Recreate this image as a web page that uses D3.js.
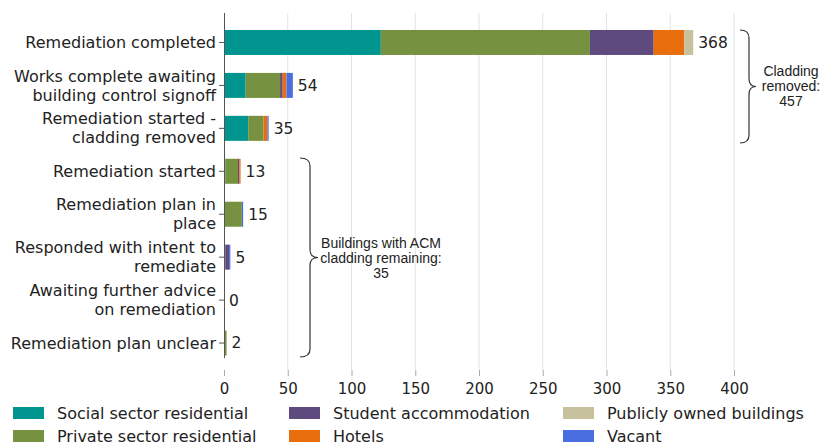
<!DOCTYPE html>
<html><head><meta charset="utf-8">
<script src="https://cdn.jsdelivr.net/npm/d3@7"></script>
<style>body{margin:0;background:#fff}svg{display:block}</style>
</head><body>
<svg id="c" width="823" height="443"></svg>
<script>
const categories = [
  ["Remediation completed"],
  ["Works complete awaiting","building control signoff"],
  ["Remediation started -","cladding removed"],
  ["Remediation started"],
  ["Remediation plan in","place"],
  ["Responded with intent to","remediate"],
  ["Awaiting further advice","on remediation"],
  ["Remediation plan unclear"]
];
const seriesNames = ["Social sector residential","Private sector residential","Student accommodation","Hotels","Publicly owned buildings","Vacant"];
const social   = [123, 17, 19, 1, 0, 0, 0, 0];
const privateS = [164, 27, 12, 10, 14, 1, 0, 2];
const student  = [50, 2, 0, 1, 0, 3, 0, 0];
const hotels   = [24, 3, 3, 1, 0, 0, 0, 0];
const publicB  = [7, 0, 0, 0, 0, 0, 0, 0];
const vacant   = [0, 5, 1, 0, 1, 1, 0, 0];
const totals   = [368, 54, 35, 13, 15, 5, 0, 2];
const xTicks   = [0, 50, 100, 150, 200, 250, 300, 350, 400];
const colors   = ["#00968f","#76913f","#5e4a7c","#e86d0c","#c7c19d","#4a6ee0"];

const svg = d3.select("#c");
const font = "DejaVu Sans";
const x = d3.scaleLinear().domain([0, 400]).range([224, 734]);
const y = d3.scaleBand().domain(d3.range(categories.length)).range([21, 364.5]).paddingInner(0.418).paddingOuter(0.209);

// gridlines
svg.append("g").selectAll("line").data(xTicks.filter(d => d > 0)).join("line")
  .attr("x1", d => x(d)).attr("x2", d => x(d)).attr("y1", 13).attr("y2", 370)
  .attr("stroke", "#e3e3e3").attr("stroke-width", 1);
// x axis
const xa = svg.append("g").attr("transform", "translate(0,370)")
  .call(d3.axisBottom(x).tickValues(xTicks).tickSize(6).tickPadding(7));
xa.select(".domain").remove();
xa.selectAll("line").attr("stroke", "#aaa");
xa.selectAll("text").attr("font-family", font).attr("font-size", 15).attr("fill", "#222");

const rows = categories.map((c, i) => {
  const vals = [social[i], privateS[i], student[i], hotels[i], publicB[i], vacant[i]];
  return {i, vals};
});
const stackData = rows.map(r => { const o = {i: r.i}; r.vals.forEach((v, k) => o[k] = v); return o; });
const stack = d3.stack().keys(d3.range(seriesNames.length))(stackData);

svg.append("g").selectAll("g").data(stack).join("g").attr("fill", (d, k) => colors[k])
  .selectAll("rect").data(d => d).join("rect")
  .attr("x", d => x(d[0])).attr("width", d => Math.max(0, x(d[1]) - x(d[0])))
  .attr("y", d => y(d.data.i)).attr("height", y.bandwidth());

// y axis
const ya = svg.append("g").attr("transform", "translate(224,0)")
  .call(d3.axisLeft(y).tickSize(5).tickFormat(""));
ya.select(".domain").attr("d", "M0.5,13V358").attr("stroke", "#555");
ya.selectAll("line").attr("stroke", "#555");

// y labels
const lab = svg.append("g").selectAll("text").data(categories).join("text")
  .attr("font-family", font).attr("font-size", 16).attr("fill", "#222").attr("text-anchor", "end")
  .attr("transform", (d, i) => `translate(216,${y(i) + y.bandwidth() / 2})`);
lab.selectAll("tspan").data(d => d.map((t, j) => ({t, j, n: d.length}))).join("tspan")
  .attr("x", 0).attr("y", d => (d.j - (d.n - 1) / 2) * 19).attr("dy", "0.35em").text(d => d.t);

// value labels
svg.append("g").selectAll("text").data(totals).join("text")
  .attr("font-family", font).attr("font-size", 15.5).attr("fill", "#222")
  .attr("x", d => x(d) + 5).attr("y", (d, i) => y(i) + y.bandwidth() / 2).attr("dy", "0.35em").text(d => d);

// braces
function brace(xEdge, xTip, y0, y1) {
  const ym = (y0 + y1) / 2, xv = (xEdge + xTip) / 2 + 1, r = 8;
  return `M${xEdge},${y0} Q${xv},${y0} ${xv},${y0 + r} L${xv},${ym - r} Q${xv},${ym} ${xTip},${ym} Q${xv},${ym} ${xv},${ym + r} L${xv},${y1 - r} Q${xv},${y1} ${xEdge},${y1}`;
}
svg.append("path").attr("d", brace(740, 756, 30, 143)).attr("fill", "none").attr("stroke", "#333").attr("stroke-width", 1.2);
svg.append("path").attr("d", brace(300, 318, 158, 357)).attr("fill", "none").attr("stroke", "#333").attr("stroke-width", 1.2);

const ann = [["Cladding","removed:","457"], ["Buildings with ACM","cladding remaining:","35"]];
const annPos = [[791, 86], [381, 258]];
ann.forEach((a, k) => {
  const t = svg.append("text").attr("font-family", "Liberation Sans, Arial").attr("font-size", 14).attr("fill", "#222")
    .attr("text-anchor", "middle").attr("transform", `translate(${annPos[k][0]},${annPos[k][1]})`);
  a.forEach((s, j) => t.append("tspan").attr("x", 0).attr("y", (j - 1) * 15).attr("dy", "0.35em").text(s));
});

// legend
const legX = [13, 289, 563], legY = [413, 436];
const lg = svg.append("g").selectAll("g").data(seriesNames).join("g")
  .attr("transform", (d, k) => `translate(${legX[Math.floor(k / 2)]},${legY[k % 2]})`);
lg.append("rect").attr("x", 0).attr("y", -6).attr("width", 31).attr("height", 12).attr("fill", (d, k) => colors[k]);
lg.append("text").attr("x", 44).attr("dy", "0.35em").attr("font-family", font).attr("font-size", 16).attr("fill", "#222").text(d => d);
</script>
</body></html>
